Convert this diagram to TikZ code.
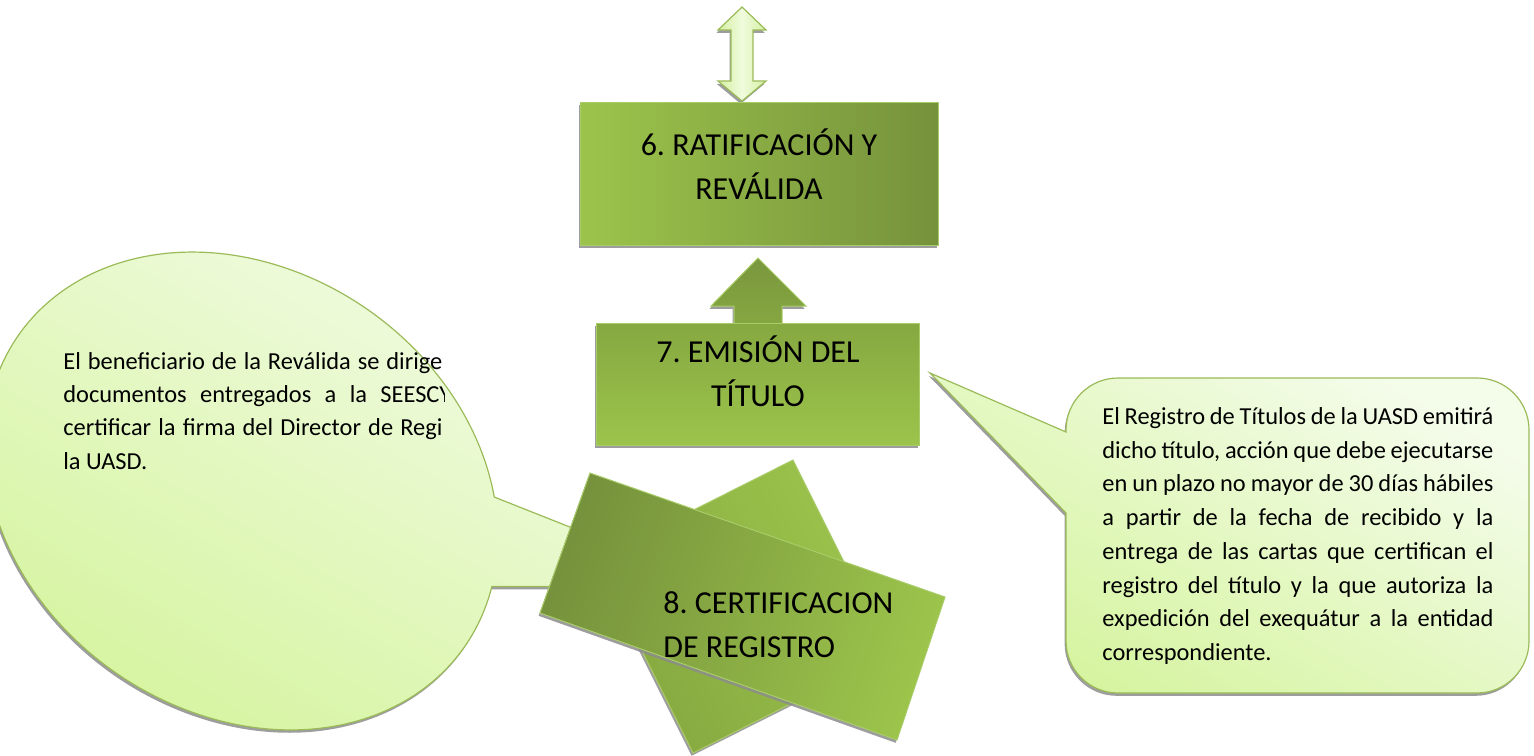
\documentclass[tikz,border=0pt]{standalone}
\usepackage{fontspec}
\setmainfont{Carlito}
\usetikzlibrary{shadows}
\definecolor{gDark}{HTML}{76923C}
\definecolor{gLight}{HTML}{9CC44B}
\definecolor{gMid}{HTML}{86A841}
\definecolor{gEdge}{HTML}{A8CC68}
\definecolor{gBorder}{HTML}{9BBB59}
\definecolor{cLight}{HTML}{F4FCEA}
\definecolor{cDark}{HTML}{D5F49E}
\definecolor{aLight}{HTML}{F0FBDD}
\definecolor{aDark}{HTML}{D4F0A2}
\frenchspacing
\begin{document}
\begin{tikzpicture}[x=0.5pt,y=-0.5pt,
  shd/.style={drop shadow={shadow xshift=-0.7pt,shadow yshift=-1.4pt,fill=black!45,opacity=0.85}},
  bx/.style={draw=gEdge,line width=0.5pt},
  bigtxt/.style={font=\fontsize{16}{22}\selectfont,inner sep=0pt,align=center},
  smalltxt/.style={font=\fontsize{12.2}{14}\selectfont,inner sep=0pt,anchor=base west},
  callout/.style={draw=gBorder,line width=0.6pt,top color=cLight,bottom color=cDark,shading angle=-30}]
\useasboundingbox (0,0) rectangle (1534,755);

% ---------- left callout (ellipse with pointer) ----------
\coordinate (tipL) at (721,587);
\begin{scope}[shift={(241.5,491)},rotate=-34.9]
  \shadedraw[callout,shd] (-17.1:272 and 221) arc[start angle=-17.1,end angle=320.8,x radius=272,y radius=221] -- (tipL) -- cycle;
\end{scope}
\begin{scope}
  \clip (0,330) rectangle (444,500);
  \node[smalltxt] (l1) at (63,369) {\makebox[189.5pt][s]{El beneficiario de la Reválida se dirige}};
  \node[smalltxt] (l2) at (63,402) {\makebox[194pt][s]{documentos entregados a la SEESCY}};
  \node[smalltxt] (l3) at (63,435) {\makebox[189.5pt][s]{certificar la firma del Director de Regi}};
  \node[smalltxt] (l4) at (63,469) {la UASD.};
\end{scope}

% ---------- right callout (rounded rectangle with pointer) ----------
\shadedraw[callout,shd] (1066,432) -- (930,373) -- (1066,513) -- (1066,641)
  arc[start angle=180,end angle=90,radius=52] -- (1477,693)
  arc[start angle=90,end angle=0,radius=52] -- (1529,430)
  arc[start angle=0,end angle=-90,radius=52] -- (1118,378)
  arc[start angle=-90,end angle=-180,radius=52] -- cycle;
\node[smalltxt] (r1) at (1102,424) {\makebox[195.5pt][s]{El Registro de Títulos de la UASD emitirá}};
\node[smalltxt] (r2) at (1102,458) {\makebox[195.5pt][s]{dicho título, acción que debe ejecutarse}};
\node[smalltxt] (r3) at (1102,491) {\makebox[195.5pt][s]{en un plazo no mayor de 30 días hábiles}};
\node[smalltxt] (r4) at (1102,525) {\makebox[195.5pt][s]{a partir de la fecha de recibido y la}};
\node[smalltxt] (r5) at (1102,559) {\makebox[195.5pt][s]{entrega de las cartas que certifican el}};
\node[smalltxt] (r6) at (1102,593) {\makebox[195.5pt][s]{registro del título y la que autoriza la}};
\node[smalltxt] (r7) at (1102,626) {\makebox[195.5pt][s]{expedición del exequátur a la entidad}};
\node[smalltxt] (r8) at (1102,660) {correspondiente.};

% ---------- box 8 (two tilted rectangles) ----------
\shadedraw[bx,shd,left color=gMid,right color=gLight,shading angle=116.6]
  (793,460) -- (890,654) -- (693,753) -- (596,559) -- cycle;
\shadedraw[bx,shd,left color=gDark,right color=gLight,shading angle=70.7]
  (590,473) -- (945,597) -- (897,740) -- (540,613) -- cycle;
\node[bigtxt,align=left,anchor=west] (t8) at (663,625) {8. CERTIFICACION\\DE REGISTRO};

% ---------- double arrow at top ----------
\shadedraw[draw=gBorder,line width=0.6pt,shd,left color=aDark,right color=aDark,middle color=aLight]
  (742,7) -- (766,30) -- (753,30) -- (753,81) -- (766,81) -- (742,101)
  -- (718,81) -- (731,81) -- (731,30) -- (718,30) -- cycle;

% ---------- box 6 ----------
\shadedraw[bx,shd,left color=gLight,right color=gDark] (580,102) rectangle (938,245);
\node[bigtxt] (t6) at (759,164) {6. RATIFICACIÓN Y\\REVÁLIDA};

% ---------- up arrow ----------
\shadedraw[bx,shd,top color=gDark!90!gLight,bottom color=gMid] (758,258) -- (806,306) -- (782,306)
  -- (782,330) -- (734,330) -- (734,306) -- (711,306) -- cycle;

% ---------- box 7 ----------
\shadedraw[bx,shd,top color=gMid,bottom color=gLight] (596,323) rectangle (919,445);
\node[bigtxt] (t7) at (758,371) {7. EMISIÓN DEL\\TÍTULO};
\end{tikzpicture}
\end{document}
